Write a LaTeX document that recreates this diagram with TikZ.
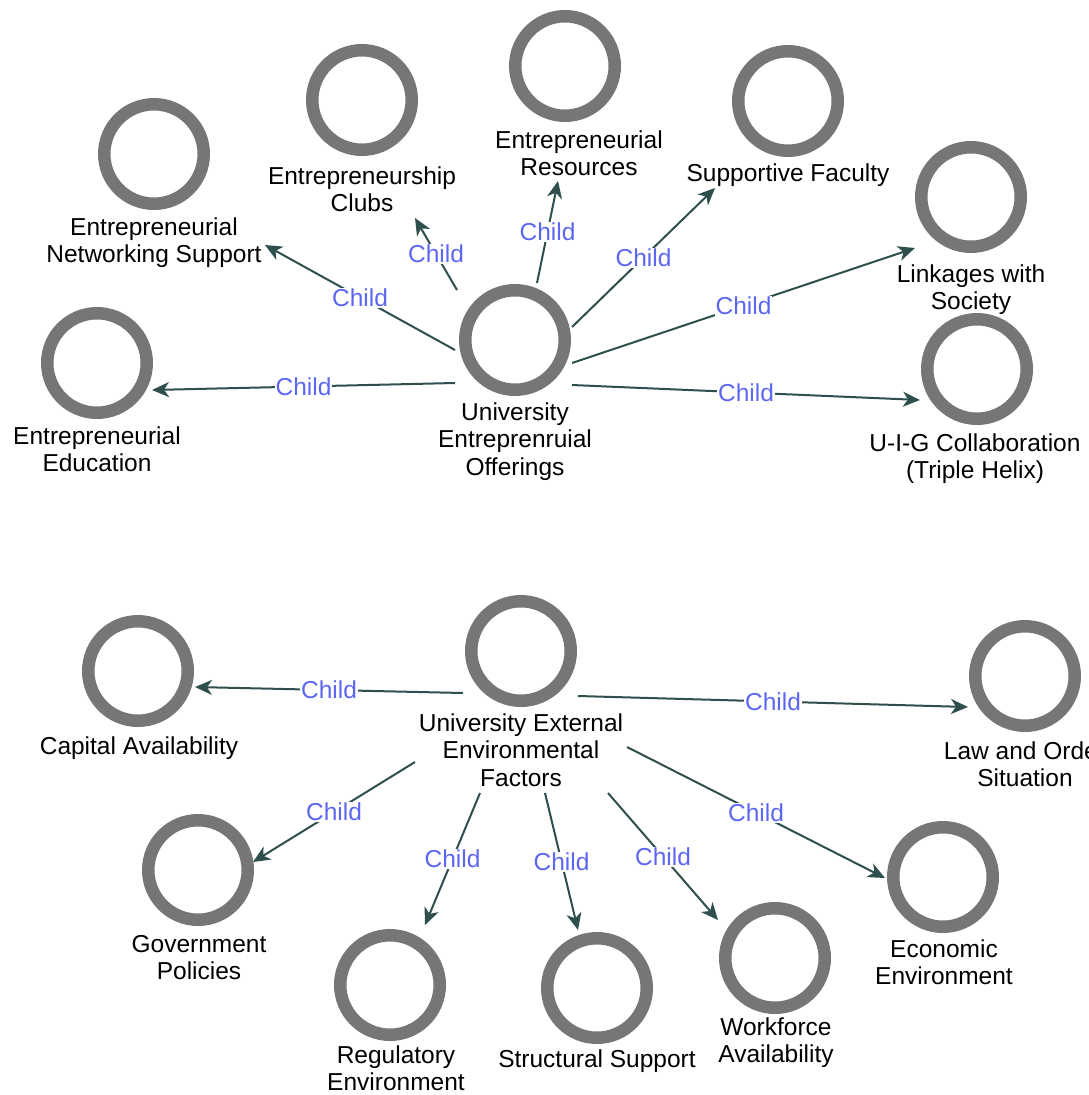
\documentclass[tikz,border=0pt]{standalone}
\usepackage{fontspec}
\setmainfont{Liberation Sans}
\usetikzlibrary{arrows.meta,calc}
\definecolor{ringgray}{RGB}{118,118,118}
\definecolor{conncol}{RGB}{47,79,79}
\definecolor{childblue}{RGB}{92,102,242}
\newcommand{\tstrut}{\rule{0pt}{22pt}}
\begin{document}
\begin{tikzpicture}[x=1pt,y=-1pt,
  ring/.style={circle, draw=ringgray, line width=12.5pt, minimum size=99.5pt, inner sep=0pt},
  lab/.style={anchor=north, align=center, inner sep=0pt, text=black, font=\fontsize{24.5}{27.5}\selectfont},
  conn/.style={draw=conncol, line width=2pt, -{Stealth[length=17pt,width=15pt,inset=5pt]}},
  chl/.style={fill=white, inner sep=1pt, text=childblue, font=\fontsize{24.5}{27.5}\selectfont}]
\fill[white] (0,0) rectangle (1089,1095);
\useasboundingbox (0,0) rectangle (1089,1095);

% ---------- top cluster ----------
\node[ring] (uo)  at (515,340) {};
\node[ring] (ee)  at (97,363) {};
\node[ring] (ns)  at (154,154) {};
\node[ring] (ec)  at (362,100) {};
\node[ring] (er)  at (565,66) {};
\node[ring] (sf)  at (788,101) {};
\node[ring] (ls)  at (971,197) {};
\node[ring] (uig) at (977,369) {};

\node[lab] (tuo)  at (515,411-13.2) {\tstrut University\\Entreprenruial\\Offerings};
\node[lab] (tee)  at (97,435-13.2) {\tstrut Entrepreneurial\\Education};
\node[lab] (tns)  at (154,226-13.2) {\tstrut Entrepreneurial\\Networking Support};
\node[lab] (tec)  at (362,175-13.2) {\tstrut Entrepreneurship\\Clubs};
\node[lab] (ter)  at (579,139-13.2) {\tstrut Entrepreneurial\\Resources};
\node[lab] (tsf)  at (788,172-13.2) {\tstrut Supportive Faculty};
\node[lab] (tls)  at (971,273-13.2) {\tstrut Linkages with\\Society};
\node[lab] (tuig) at (975,442-13.2) {\tstrut U-I-G Collaboration\\(Triple Helix)};

\draw[conn] ($(uo)+(-60,43)$) -- node[chl] (k1) {Child} ($(ee)+(55,27)$);
\draw[conn] ($(uo)+(-60,10)$) -- node[chl] (k2) {Child} ($(ns)+(111,91)$);
\draw[conn] ($(uo)+(-58,-50)$) -- node[chl] (k3) {Child} ($(ec)+(53,118)$);
\draw[conn] ($(uo)+(22,-57)$) -- node[chl] (k4) {Child} ($(er)+(-7,115)$);
\draw[conn] ($(uo)+(57,-13)$) -- node[chl] (k5) {Child} ($(sf)+(-73,87)$);
\draw[conn] ($(uo)+(57,23)$) -- node[chl] (k6) {Child} ($(ls)+(-56,51)$);
\draw[conn] ($(uo)+(57,45)$) -- node[chl] (k7) {Child} ($(uig)+(-57,31)$);

% ---------- bottom cluster ----------
\node[ring] (ef)  at (521,651) {};
\node[ring] (ca)  at (138,671) {};
\node[ring] (lo)  at (1025,676) {};
\node[ring] (gp)  at (198,870) {};
\node[ring] (re)  at (390,985) {};
\node[ring] (ss)  at (597,988) {};
\node[ring] (wa)  at (775,958) {};
\node[ring] (ece) at (943,877) {};

\node[lab] (tef)  at (521,722-13.2) {\tstrut University External\\Environmental\\Factors};
\node[lab] (tca)  at (139,745-13.2) {\tstrut Capital Availability};
\node[lab] (tlo)  at (1025,750-13.2) {\tstrut Law and Order\\Situation};
\node[lab] (tgp)  at (199,943-13.2) {\tstrut Government\\Policies};
\node[lab] (tre)  at (396,1054-13.2) {\tstrut Regulatory\\Environment};
\node[lab] (tss)  at (597,1058-13.2) {\tstrut Structural Support};
\node[lab] (twa)  at (776,1026-13.2) {\tstrut Workforce\\Availability};
\node[lab] (tece) at (944,948-13.2) {\tstrut Economic\\Environment};

\draw[conn] ($(ef)+(-58,42)$) -- node[chl] (k8) {Child} ($(ca)+(57,16)$);
\draw[conn] ($(ef)+(57,45)$) -- node[chl] (k9) {Child} ($(lo)+(-57,31)$);
\draw[conn] ($(ef)+(-106,111)$) -- node[chl] (k10) {Child} ($(gp)+(55,-8)$);
\draw[conn] ($(ef)+(-41,142)$) -- node[chl] (k11) {Child} ($(re)+(35,-60)$);
\draw[conn] ($(ef)+(24,142)$) -- node[chl] (k12) {Child} ($(ss)+(-19,-58)$);
\draw[conn] ($(ef)+(87,142)$) -- node[chl] (k13) {Child} ($(wa)+(-57,-38)$);
\draw[conn] ($(ef)+(106,96)$) -- node[chl] (k14) {Child} ($(ece)+(-58,1)$);
\end{tikzpicture}
\end{document}
